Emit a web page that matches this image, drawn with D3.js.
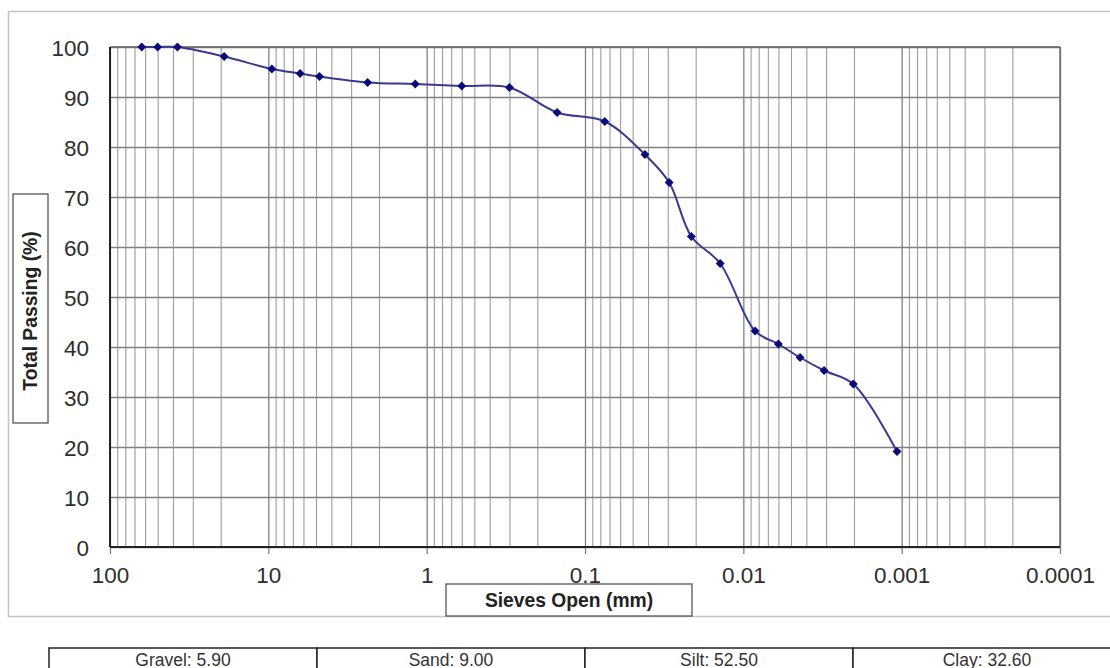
<!DOCTYPE html>
<html>
<head>
<meta charset="utf-8">
<script src="https://cdn.jsdelivr.net/npm/d3@7"></script>
<style>
  html, body { margin: 0; padding: 0; background: #fff; }
  svg { display: block; font-family: "Liberation Sans", Arial, sans-serif; }
</style>
</head>
<body>
<svg id="chart" width="1110" height="668"></svg>
<script>
// ---- Data ----
const sieveSizes = [63, 50, 37.5, 19, 9.5, 6.3, 4.75, 2.36, 1.18, 0.6, 0.3, 0.15, 0.075,
                    0.0418, 0.0294, 0.0213, 0.0140, 0.00843, 0.00601, 0.00438, 0.00309, 0.00202, 0.00107];
const passing = [100, 100, 100, 98.1, 95.6, 94.7, 94.1, 92.9, 92.6, 92.2, 91.9, 86.9, 85.1,
                 78.5, 72.9, 62.1, 56.7, 43.2, 40.6, 37.9, 35.3, 32.6, 19.1];
const xTickValues = [100, 10, 1, 0.1, 0.01, 0.001, 0.0001];
const xTickLabels = ["100", "10", "1", "0.1", "0.01", "0.001", "0.0001"];
const yTickValues = [0, 10, 20, 30, 40, 50, 60, 70, 80, 90, 100];
const fractionNames = ["Gravel", "Sand", "Silt", "Clay"];
const fractionValues = [5.90, 9.00, 52.50, 32.60];
const xTitle = "Sieves Open (mm)";
const yTitle = "Total Passing (%)";

// ---- Layout ----
const svg = d3.select("#chart");
const L = 110, R = 1060, T = 47, B = 547;

const x = d3.scaleLog().domain([100, 0.0001]).range([L, R]);
const y = d3.scaleLinear().domain([0, 100]).range([B, T]);

// outer frame
svg.append("rect").attr("x", 8.5).attr("y", 11.5).attr("width", 1130).attr("height", 605)
  .attr("fill", "#fff").attr("stroke", "#c4c4c4").attr("stroke-width", 1.5);

// minor vertical gridlines
const minorVals = [];
for (let k = -4; k <= 1; k++) for (let j = 2; j <= 9; j++) minorVals.push(j * Math.pow(10, k));
const gMinor = svg.append("g").attr("transform", `translate(0,${B})`)
  .call(d3.axisBottom(x).tickValues(minorVals).tickSize(-(B - T)).tickFormat(""));
gMinor.select(".domain").remove();
gMinor.selectAll("line").attr("stroke", "#9c9c9c").attr("stroke-width", 1.1);

// decade vertical gridlines + tick marks below axis
const gX = svg.append("g").attr("transform", `translate(0,${B})`)
  .call(d3.axisBottom(x).tickValues(xTickValues).tickSize(0).tickFormat(""));
gX.select(".domain").remove();
gX.selectAll(".tick").append("line").attr("y1", -(B - T)).attr("y2", 7)
  .attr("stroke", "#808080").attr("stroke-width", 1.3);
gX.selectAll(".tick").append("text")
  .attr("y", 36).attr("text-anchor", "middle")
  .attr("fill", "#2e2e2e").style("font-size", "22.5px")
  .text((d, i) => xTickLabels[i]);

// horizontal gridlines + y labels
const gY = svg.append("g").attr("transform", `translate(${L},0)`)
  .call(d3.axisLeft(y).tickValues(yTickValues).tickSize(-(R - L)).tickFormat(""));
gY.select(".domain").remove();
gY.selectAll("line").attr("stroke", "#808080").attr("stroke-width", 1.3);
gY.selectAll(".tick").append("text")
  .attr("x", -21).attr("dy", "0.36em").attr("text-anchor", "end")
  .attr("fill", "#2e2e2e").style("font-size", "22.5px")
  .text(d => d);

// plot border
svg.append("line").attr("x1", L).attr("x2", R).attr("y1", T).attr("y2", T).attr("stroke", "#666").attr("stroke-width", 1.3);
svg.append("line").attr("x1", R).attr("x2", R).attr("y1", T).attr("y2", B).attr("stroke", "#666").attr("stroke-width", 1.3);
svg.append("line").attr("x1", L).attr("x2", L).attr("y1", T).attr("y2", B).attr("stroke", "#222").attr("stroke-width", 2);
svg.append("line").attr("x1", L).attr("x2", R).attr("y1", B).attr("y2", B).attr("stroke", "#222").attr("stroke-width", 2);

// data line
const pts = sieveSizes.map((s, i) => [s, passing[i]]);
const line = d3.line().x(d => x(d[0])).y(d => y(d[1])).curve(d3.curveCatmullRom.alpha(0.5));
svg.append("path").datum(pts).attr("d", line)
  .attr("fill", "none").attr("stroke", "#393990").attr("stroke-width", 2);

svg.append("g").selectAll("path").data(pts).join("path")
  .attr("d", d3.symbol().type(d3.symbolSquare).size(40))
  .attr("transform", d => `translate(${x(d[0])},${y(d[1])}) rotate(45)`)
  .attr("fill", "#0a0a78");

// axis title boxes
svg.append("rect").attr("x", 446).attr("y", 584).attr("width", 246).attr("height", 32)
  .attr("fill", "#fff").attr("stroke", "#555").attr("stroke-width", 1.3);
svg.append("text").attr("x", 569).attr("y", 607).attr("text-anchor", "middle")
  .style("font-size", "19.3px").style("font-weight", "bold").attr("fill", "#222").text(xTitle);

svg.append("rect").attr("x", 13).attr("y", 194).attr("width", 35).attr("height", 229)
  .attr("fill", "#fff").attr("stroke", "#555").attr("stroke-width", 1.3);
svg.append("text").attr("transform", "translate(37,311) rotate(-90)").attr("text-anchor", "middle")
  .style("font-size", "19.3px").style("font-weight", "bold").attr("fill", "#222").text(yTitle);

// fractions table
const cellW = 268, tX = 49, tY = 648;
const cells = svg.append("g").selectAll("g").data(fractionNames).join("g")
  .attr("transform", (d, i) => `translate(${tX + i * cellW},${tY})`);
cells.append("rect").attr("width", cellW).attr("height", 40)
  .attr("fill", "#fff").attr("stroke", "#222").attr("stroke-width", 1.5);
cells.append("text").attr("x", cellW / 2).attr("y", 17.5).attr("text-anchor", "middle")
  .style("font-size", "17.5px").attr("fill", "#333")
  .text((d, i) => `${d}: ${fractionValues[i].toFixed(2)}`);
</script>
</body>
</html>
